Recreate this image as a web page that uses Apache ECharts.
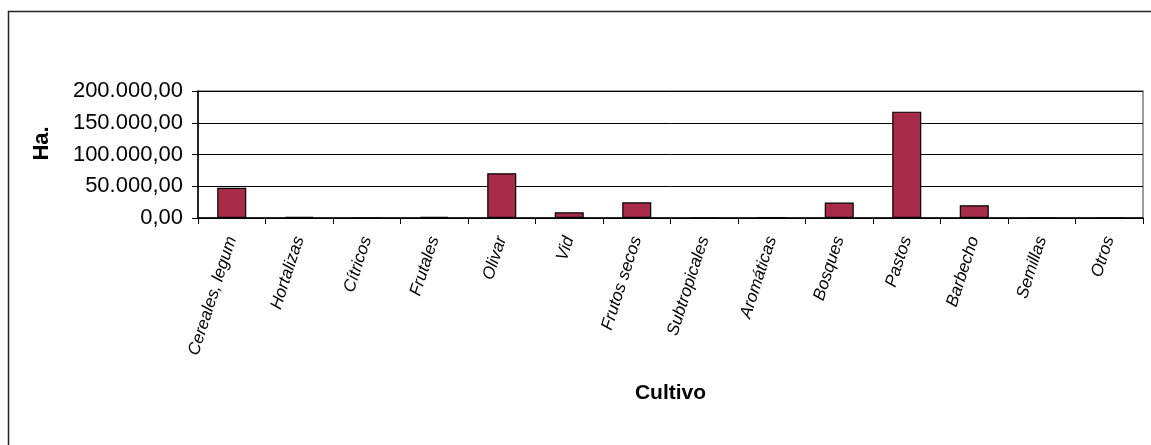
<!DOCTYPE html>
<html>
<head>
<meta charset="utf-8">
<script src="https://cdn.jsdelivr.net/npm/echarts@6/dist/echarts.min.js"></script>
<style>html,body{margin:0;padding:0;background:#fff;}#c{width:1151px;height:445px;}</style>
</head>
<body>
<div id="c"></div>
<script>
const categories = ['Cereales, legum','Hortalizas','Cítricos','Frutales','Olivar','Vid','Frutos secos','Subtropicales','Aromáticas','Bosques','Pastos','Barbecho','Semillas','Otros'];
const hectareas = [47500, 1800, 0, 1800, 70500, 9000, 24700, 0, 1500, 24300, 167500, 20000, 0, 0];
const yTicks = [0, 50000, 100000, 150000, 200000];

function fmt(v){
  const s = Math.round(v).toString().replace(/\B(?=(\d{3})+(?!\d))/g, '.');
  return s + ',00';
}

const FONT = 'Liberation Sans, Arial, sans-serif';
const chart = echarts.init(document.getElementById('c'), null, {renderer:'canvas'});
chart.setOption({
  animation: false,
  backgroundColor: '#fff',
  textStyle: { fontFamily: FONT },
  graphic: [{
    type: 'rect', silent: true, z: -1,
    shape: { x: 8.5, y: 11.5, width: 1200, height: 500 },
    style: { fill: 'none', stroke: '#222', lineWidth: 1.5 }
  }],
  grid: { left: 198, right: 8, top: 91, bottom: 227, show: true, borderColor: '#7f7f7f', borderWidth: 1.5, backgroundColor: 'transparent' },
  xAxis: {
    type: 'category',
    data: categories,
    name: 'Cultivo',
    nameLocation: 'middle',
    nameGap: 165,
    nameTextStyle: { fontSize: 21, fontWeight: 'bold', color: '#000', fontFamily: FONT },
    axisLine: { lineStyle: { color: '#000', width: 1.5 } },
    axisTick: { show: true, alignWithLabel: false, length: 6, lineStyle: { color: '#000' } },
    axisLabel: { rotate: 72, fontSize: 17, color: '#000', margin: 19, interval: 0, fontFamily: FONT, fontStyle: 'italic' }
  },
  yAxis: {
    type: 'value',
    min: yTicks[0],
    max: yTicks[yTicks.length-1],
    interval: yTicks[1]-yTicks[0],
    name: 'Ha.',
    nameLocation: 'middle',
    nameGap: 145,
    nameRotate: 90,
    nameTextStyle: { fontSize: 22, fontWeight: 'bold', color: '#000', fontFamily: FONT, padding: [0, 0, 0, 22] },
    axisLine: { show: true, lineStyle: { color: '#000', width: 1.5 } },
    axisTick: { show: true, length: 6, lineStyle: { color: '#000' } },
    axisLabel: { fontSize: 22, color: '#000', margin: 15, formatter: fmt, fontFamily: FONT },
    splitLine: { show: true, lineStyle: { color: '#000', width: 1 } }
  },
  series: [{
    type: 'bar',
    data: hectareas,
    barWidth: '43%',
    itemStyle: { color: '#a82b4a', borderColor: '#000', borderWidth: 1.2 }
  }]
});
</script>
</body>
</html>
